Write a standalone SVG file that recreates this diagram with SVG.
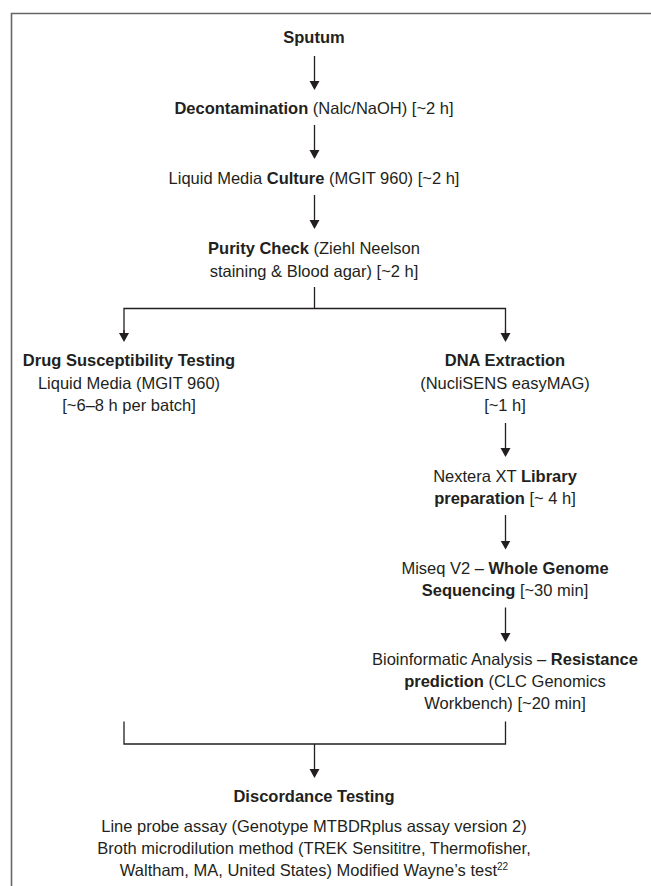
<svg xmlns="http://www.w3.org/2000/svg" width="651" height="886" viewBox="0 0 651 886">
<defs>
<style>
text{font-family:"Liberation Sans",Arial,sans-serif;font-size:16.5px;fill:#231f20;text-anchor:middle}
.b{font-weight:bold}
.c{fill:none;stroke:#231f20;stroke-width:1.3}
.frame{fill:none;stroke:#666;stroke-width:1.6}
</style>
<marker id="ah" markerUnits="userSpaceOnUse" markerWidth="12" markerHeight="12" refX="7" refY="5" orient="auto">
<path d="M0,0 L9,5 L0,10 Z" fill="#231f20"/>
</marker>
</defs>
<rect width="651" height="886" fill="#fff"/>
<path class="frame" d="M11.5,886 V13.5 H651"/>

<g id="sputum"><text x="314" y="43" class="b">Sputum</text></g>
<g id="decontamination"><text x="314" y="114"><tspan class="b">Decontamination</tspan> (Nalc/NaOH) [~2 h]</text></g>
<g id="culture"><text x="314" y="184">Liquid Media <tspan class="b">Culture</tspan> (MGIT 960) [~2 h]</text></g>
<g id="purity"><text x="314" y="254"><tspan class="b">Purity Check</tspan> (Ziehl Neelson</text><text x="314" y="276.5">staining &amp; Blood agar) [~2 h]</text></g>
<g id="dst"><text x="129" y="366" class="b">Drug Susceptibility Testing</text><text x="129" y="388.5">Liquid Media (MGIT 960)</text><text x="129" y="410.5">[~6–8 h per batch]</text></g>
<g id="dna"><text x="505" y="366" class="b">DNA Extraction</text><text x="505" y="388.5">(NucliSENS easyMAG)</text><text x="505" y="410.5">[~1 h]</text></g>
<g id="library"><text x="505" y="481.5">Nextera XT <tspan class="b">Library</tspan></text><text x="505" y="503.5"><tspan class="b">preparation</tspan> [~ 4 h]</text></g>
<g id="wgs"><text x="505" y="573.5">Miseq V2 – <tspan class="b">Whole Genome</tspan></text><text x="505" y="595.5"><tspan class="b">Sequencing</tspan> [~30 min]</text></g>
<g id="bioinfo"><text x="505" y="665">Bioinformatic Analysis – <tspan class="b">Resistance</tspan></text><text x="505" y="687"><tspan class="b">prediction</tspan> (CLC Genomics</text><text x="505" y="709">Workbench) [~20 min]</text></g>
<g id="discordance"><text x="314" y="802" class="b">Discordance Testing</text><text x="314" y="831.5">Line probe assay (Genotype MTBDRplus assay version 2)</text><text x="314" y="853.5">Broth microdilution method (TREK Sensititre, Thermofisher,</text><text x="314" y="875.5">Waltham, MA, United States) Modified Wayne’s test<tspan font-size="10" dy="-6">22</tspan></text></g>

<g id="connectors">
<path class="c" d="M314.5,56 V88" marker-end="url(#ah)"/>
<path class="c" d="M314.5,125 V157" marker-end="url(#ah)"/>
<path class="c" d="M314.5,195 V227" marker-end="url(#ah)"/>
<path class="c" d="M314.5,287 V308.5"/>
<path class="c" d="M124,340 V308.5 H505.5 V340"/>
<path class="c" d="M124,330 V340" marker-end="url(#ah)"/>
<path class="c" d="M505.5,330 V340" marker-end="url(#ah)"/>
<path class="c" d="M505.5,423 V455" marker-end="url(#ah)"/>
<path class="c" d="M505.5,515 V547.5" marker-end="url(#ah)"/>
<path class="c" d="M505.5,607.5 V640" marker-end="url(#ah)"/>
<path class="c" d="M124,721.5 V744 H505.5 V721.5"/>
<path class="c" d="M314.5,744 V776" marker-end="url(#ah)"/>
</g>
</svg>
